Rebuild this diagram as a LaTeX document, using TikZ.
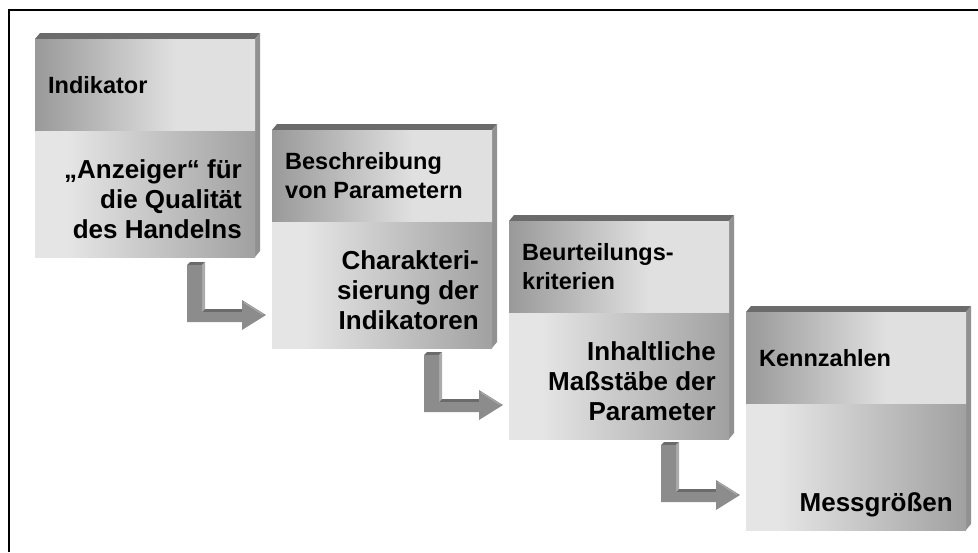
\documentclass[tikz,border=0pt]{standalone}
\usepackage{fontspec}
\setmainfont{Liberation Sans}

\definecolor{hdrdark}{gray}{0.60}
\definecolor{hdrlight}{gray}{0.88}
\definecolor{bodylight}{gray}{0.90}
\definecolor{bodydark}{gray}{0.63}
\definecolor{bevtop}{gray}{0.42}
\definecolor{bevside}{gray}{0.57}
\definecolor{arrfront}{gray}{0.55}
\definecolor{arrside}{gray}{0.67}
\definecolor{arrtop}{gray}{0.42}

\pgfdeclarehorizontalshading{hdrshade}{100bp}{color(0bp)=(hdrdark); color(25bp)=(hdrdark); color(57bp)=(hdrlight); color(100bp)=(hdrlight)}
\pgfdeclarehorizontalshading{bodyshade}{100bp}{color(0bp)=(bodylight); color(32bp)=(bodylight); color(75bp)=(bodydark); color(100bp)=(bodydark)}

\tikzset{
  hdrtext/.style={anchor=west, align=left, inner sep=0pt, font=\bfseries\fontsize{23.5}{29}\selectfont},
  bodytext/.style={anchor=south east, align=right, inner sep=0pt, text depth=0pt, font=\bfseries\fontsize{26}{30}\selectfont},
}

% card: name, x, y, header, body
\newcommand{\stepcard}[5]{%
  \begin{scope}[shift={(#2,#3)}]
    \fill[bevtop] (0,0) -- (5,-6) -- (225,-6) -- (220,0) -- cycle;
    \fill[bevside] (220,0) -- (225,-6) -- (225,212) -- (220,218) -- cycle;
    \shade[shading=hdrshade] (0,0) rectangle (220,92);
    \shade[shading=bodyshade] (0,92) rectangle (220,218);
    \node[hdrtext] (#1-head) at (13,46) {#4};
    \node[bodytext] (#1-body) at (207,200) {#5};
  \end{scope}}

% bent arrow: name, x, y
\newcommand{\turnarrow}[3]{%
  \begin{scope}[shift={(#2,#3)}]
    \coordinate (#1) at (0,0);
    \fill[arrtop] (0,0) -- (3,-3) -- (18,-3) -- (15,0) -- cycle;
    \fill[arrside] (15,0) -- (18,-3) -- (18,44) -- (15,47) -- cycle;
    \fill[arrtop] (15,47) -- (18,44) -- (58,44) -- (55,47) -- cycle;
    \fill[arrfront] (0,0) -- (15,0) -- (15,47) -- (55,47) -- (55,35) -- (79,50)
      -- (55,65) -- (55,57) -- (0,57) -- cycle;
    \draw[arrside, line width=1pt] (57,37.5) -- (76,49.5);
  \end{scope}}

\begin{document}
\begin{tikzpicture}[x=1pt,y=-1pt]
  \useasboundingbox (0,0) rectangle (978,552);
  \draw[line width=2pt] (9,552) -- (9,9.5) -- (978,9.5);

  \stepcard{indikator}{35}{39}{Indikator}{„Anzeiger“ für\\die Qualität\\des Handelns}
  \stepcard{parameter}{272}{130}{Beschreibung\\von Parametern}{Charakteri-\\sierung der\\Indikatoren}
  \stepcard{kriterien}{509}{221}{Beurteilungs-\\kriterien}{Inhaltliche\\Maßstäbe der\\Parameter}
  \stepcard{kennzahlen}{746}{312}{Kennzahlen}{Messgrößen}

  \turnarrow{pfeil1}{187}{265}
  \turnarrow{pfeil2}{424}{355}
  \turnarrow{pfeil3}{661}{445}
\end{tikzpicture}
\end{document}
